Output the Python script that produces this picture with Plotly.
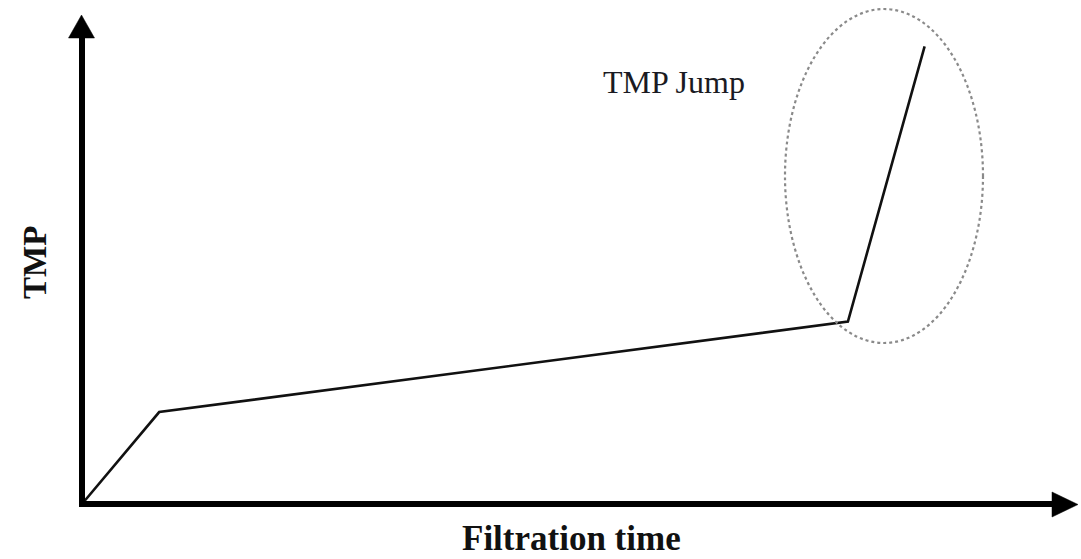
import plotly.graph_objects as go

# Data (arbitrary units: filtration time vs TMP)
filtration_time = [0.0, 7.75, 76.9, 84.6]
tmp_values = [0.0, 18.8, 37.3, 93.6]

# Labels
x_label = "Filtration time"
y_label = "TMP"
jump_label = "TMP Jump"

# Figure geometry (pixel -> data mapping with zero margins)
W, H = 1081, 559
ox, oy = 82.0, 504.0          # pixel position of origin
sx, sy = 9.96, 4.89            # pixels per unit
x_range = [-ox / sx, (W - ox) / sx]
y_range = [-(H - oy) / sy, oy / sy]

def px_x(p):
    return (p - ox) / sx

def px_y(p):
    return (oy - p) / sy

fig = go.Figure()

fig.add_trace(go.Scatter(
    x=filtration_time, y=tmp_values, mode="lines",
    line=dict(color="#111111", width=2.6),
    hoverinfo="skip", showlegend=False,
))

# axes (thick lines with triangular heads)
ax_col = "#000000"
fig.add_shape(type="line", x0=px_x(79), y0=0, x1=px_x(1056), y1=0,
              line=dict(color=ax_col, width=6))
fig.add_shape(type="line", x0=0, y0=px_y(507), x1=0, y1=px_y(35),
              line=dict(color=ax_col, width=6))
fig.add_shape(type="path",
              path=f"M {px_x(1052)},{px_y(492)} L {px_x(1078)},{px_y(504.5)} L {px_x(1052)},{px_y(517)} Z",
              fillcolor=ax_col, line=dict(color=ax_col, width=0.5))
fig.add_shape(type="path",
              path=f"M {px_x(68.5)},{px_y(38)} L {px_x(81.5)},{px_y(15)} L {px_x(94.5)},{px_y(38)} Z",
              fillcolor=ax_col, line=dict(color=ax_col, width=0.5))

# dotted ellipse around the jump
fig.add_shape(type="circle", x0=px_x(785), x1=px_x(983), y0=px_y(343), y1=px_y(9),
              line=dict(color="#8a8a8a", width=2.2, dash="dot"))

serif = "Liberation Serif, Times New Roman, serif"
fig.add_annotation(x=px_x(674), y=px_y(82), text=jump_label, showarrow=False,
                   font=dict(family=serif, size=32, color="#1a1a22"))
fig.add_annotation(x=px_x(571), y=px_y(558.5), yanchor="bottom", borderpad=0,
                   text=f"<b>{x_label}</b>", showarrow=False,
                   font=dict(family=serif, size=35, color="#111111"))
fig.add_annotation(x=px_x(35), y=px_y(263), text=f"<b>{y_label}</b>", showarrow=False,
                   textangle=-90, font=dict(family=serif, size=33, color="#111111"))

fig.update_xaxes(range=x_range, visible=False, fixedrange=True)
fig.update_yaxes(range=y_range, visible=False, fixedrange=True)
fig.update_layout(width=W, height=H, margin=dict(l=0, r=0, t=0, b=0),
                  paper_bgcolor="white", plot_bgcolor="white")

fig.write_html("out.html", config={"displayModeBar": False},
               post_script="document.body.style.margin='0';document.body.style.overflow='hidden';")
